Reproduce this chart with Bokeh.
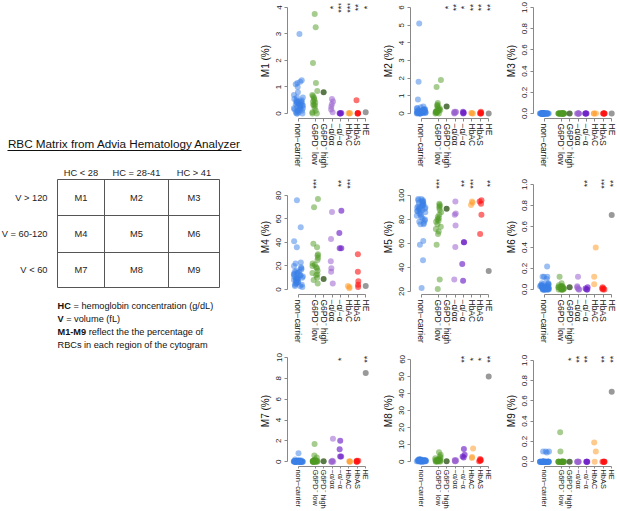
import math
from bokeh.plotting import figure
from bokeh.models import Range1d, FixedTicker, ColumnDataSource, PrintfTickFormatter
from bokeh.transform import jitter
from bokeh.layouts import row, column
from bokeh.embed import file_html
from bokeh.resources import INLINE
from bokeh.core.properties import value

# ---------------- data ----------------
group_pos = [1, 3, 4, 5, 6, 7, 8, 9]
group_labels = ["non\u2212carrier", "G6PD\u207b low", "G6PD\u207b high", "\u2212\u03b1/\u03b1\u03b1",
                "\u2212\u03b1/\u2212\u03b1", "HbAC", "HbAS", "HE"]
group_colors = ["#3A7FE8", "#4E9A22", "#3E6128", "#9A62D0", "#6E22C8", "#FF9E2C", "#FF1010", "#6E6E6E"]
group_alpha = [0.5, 0.5, 0.85, 0.55, 0.65, 0.55, 0.6, 0.7]
group_jitter = [1.1, 0.7, 0.0, 0.3, 0.3, 0.3, 0.3, 0.0]

M1 = dict(
    nc=[3.0, 1.25, 1.2, 1.15, 1.1, 1.0, 0.8, 0.7, 0.6, 0.6, 0.55, 0.5, 0.5, 0.45, 0.45, 0.4, 0.4, 0.4, 0.35, 0.35,
        0.3, 0.3, 0.3, 0.25, 0.25, 0.2, 0.2, 0.2, 0.15, 0.15, 0.1, 0.1, 0.1, 0.05, 0.05, 0.0, 0.0, 0.0, 0.45, 0.35],
    gl=[3.75, 3.25, 1.9, 1.15, 0.85, 0.7, 0.65, 0.6, 0.55, 0.5, 0.4, 0.35, 0.3, 0.3, 0.2, 0.1, 0.05, 0.0, 0.0, 0.45],
    gh=[0.8], a1=[0.55, 0.45, 0.35, 0.25, 0.15, 0.05], a2=[0.0, 0.02, 0.0, 0.01],
    ac=[0.0, 0.02, 0.01], as_=[0.5, 0.0, 0.02, 0.0, 0.01], he=[0.05])
M2 = dict(
    nc=[5.1, 1.8, 0.8, 0.4, 0.35, 0.3, 0.3, 0.25, 0.25, 0.2, 0.2, 0.2, 0.15, 0.15, 0.15, 0.1, 0.1, 0.1, 0.1, 0.08,
        0.08, 0.05, 0.05, 0.05, 0.05, 0.03, 0.03, 0.02, 0.02, 0.0, 0.0, 0.0, 0.12, 0.18, 0.22, 0.06, 0.04, 0.1, 0.14, 0.01],
    gl=[1.9, 1.5, 0.6, 0.5, 0.45, 0.4, 0.3, 0.3, 0.25, 0.2, 0.15, 0.1, 0.1, 0.05, 0.05, 0.0, 0.0, 0.2, 0.12, 0.08],
    gh=[0.4], a1=[0.1, 0.05, 0.05, 0.0, 0.1, 0.08], a2=[0.1, 0.05, 0.05, 0.0],
    ac=[0.02, 0.0, 0.03], as_=[0.1, 0.05, 0.0, 0.0, 0.02], he=[0.0])
M3 = dict(
    nc=[0.0, 0.0, 0.0, 0.0, 0.0, 0.0, 0.0, 0.0, 0.0, 0.0, 0.0, 0.0, 0.0, 0.0, 0.0, 0.0, 0.0, 0.0, 0.0, 0.0,
        0.0, 0.0, 0.0, 0.0, 0.0, 0.0, 0.0, 0.0, 0.0, 0.0, 0.0, 0.0, 0.0, 0.0, 0.0, 0.0, 0.0, 0.0, 0.0, 0.0],
    gl=[0.0, 0.0, 0.0, 0.0, 0.0, 0.0, 0.0, 0.0, 0.0, 0.0, 0.0, 0.0, 0.0, 0.0, 0.0, 0.0, 0.0, 0.0, 0.0, 0.0],
    gh=[0.0], a1=[0.0, 0.0, 0.0, 0.0, 0.0, 0.0], a2=[0.0, 0.0, 0.0, 0.0],
    ac=[0.0, 0.0, 0.0], as_=[0.0, 0.0, 0.0, 0.0, 0.0], he=[0.0])
M4 = dict(
    nc=[76, 53, 41, 36, 23, 22, 20, 18, 17, 16, 15, 15, 14, 13, 13, 12, 12, 11, 11, 10,
        10, 9, 9, 9, 8, 8, 7, 7, 6, 6, 5, 5, 4, 4, 3, 3, 2, 19, 14, 10],
    gl=[77, 70, 39, 36, 30, 29, 27, 25, 22, 21, 20, 19, 18, 16, 14, 13, 12, 10, 8, 5],
    gh=[9], a1=[66, 43, 24, 18, 15, 5], a2=[67, 48, 35, 35],
    ac=[1, 2, 3], as_=[30, 15, 7, 4, 2], he=[3])
M5 = dict(
    nc=[97, 97, 96, 96, 95, 95, 94, 94, 93, 93, 92, 92, 91, 91, 90, 90, 89, 89, 88, 88,
        87, 87, 86, 86, 85, 84, 83, 82, 81, 80, 79, 78, 77, 76, 76, 62, 59, 46, 23, 90],
    gl=[93, 92, 91, 90, 88, 86, 84, 82, 81, 80, 79, 78, 76, 74, 72, 70, 68, 59, 30, 22],
    gh=[89], a1=[95, 85, 84, 75, 57, 30], a2=[61, 61, 43, 29],
    ac=[95, 94, 92], as_=[96, 95, 93, 84, 68], he=[37])
M6 = dict(
    nc=[0.22, 0.12, 0.12, 0.12, 0.1, 0.06, 0.05, 0.05, 0.04, 0.04, 0.03, 0.03, 0.03, 0.02, 0.02, 0.02, 0.02, 0.01,
        0.01, 0.01, 0.01, 0.0, 0.0, 0.0, 0.0, 0.0, 0.0, 0.0, 0.0, 0.0, 0.03, 0.02, 0.01, 0.04, 0.05, 0.02, 0.01, 0.0,
        0.03, 0.06],
    gl=[0.12, 0.06, 0.04, 0.03, 0.03, 0.02, 0.02, 0.02, 0.01, 0.01, 0.01, 0.0, 0.0, 0.0, 0.0, 0.0, 0.02, 0.01, 0.03, 0.0],
    gh=[0.02], a1=[0.12, 0.03, 0.02, 0.01, 0.0, 0.0], a2=[0.02, 0.01, 0.0, 0.0],
    ac=[0.4, 0.12, 0.05], as_=[0.02, 0.01, 0.0, 0.0, 0.01], he=[0.71])
M7 = dict(
    nc=[0.8, 0.2, 0.15, 0.1, 0.1, 0.1, 0.08, 0.05, 0.05, 0.05, 0.05, 0.03, 0.03, 0.02, 0.02, 0.02, 0.01, 0.01, 0.01,
        0.0, 0.0, 0.0, 0.0, 0.0, 0.0, 0.0, 0.0, 0.0, 0.0, 0.0, 0.12, 0.06, 0.04, 0.0, 0.0, 0.02, 0.07, 0.0, 0.0, 0.03],
    gl=[1.7, 0.6, 0.4, 0.2, 0.15, 0.1, 0.1, 0.05, 0.05, 0.03, 0.02, 0.0, 0.0, 0.0, 0.0, 0.0, 0.08, 0.04, 0.0, 0.0],
    gh=[0.05], a1=[2.2, 0.1, 0.05, 0.0, 0.0, 0.0], a2=[2.0, 1.2, 0.5, 0.5],
    ac=[0.05, 0.0, 0.02], as_=[0.1, 0.05, 0.0, 0.0, 0.1], he=[8.5])
M8 = dict(
    nc=[1.5, 1.3, 1.2, 1.1, 1.0, 1.0, 0.9, 0.9, 0.8, 0.8, 0.8, 0.7, 0.7, 0.7, 0.6, 0.6, 0.6, 0.5, 0.5, 0.5,
        0.5, 0.4, 0.4, 0.4, 0.3, 0.3, 0.3, 0.2, 0.2, 0.2, 0.1, 0.1, 0.1, 0.0, 0.0, 0.6, 0.9, 1.2, 0.4, 0.7],
    gl=[5.5, 4.0, 3.0, 2.5, 2.0, 1.5, 1.2, 1.0, 1.0, 0.8, 0.6, 0.5, 0.5, 0.4, 0.3, 0.2, 0.1, 0.0, 0.0, 0.7],
    gh=[0.3], a1=[1.0, 0.8, 0.5, 0.5, 0.3, 0.2], a2=[7.5, 4.0, 3.0, 2.5],
    ac=[7.8, 2.8, 2.2], as_=[1.5, 1.0, 0.8, 0.5, 0.3], he=[50])
M9 = dict(
    nc=[0.1, 0.1, 0.1, 0.09, 0.0, 0.0, 0.0, 0.0, 0.0, 0.0, 0.0, 0.0, 0.0, 0.0, 0.0, 0.0, 0.0, 0.0, 0.0, 0.0,
        0.0, 0.0, 0.0, 0.0, 0.0, 0.0, 0.0, 0.0, 0.0, 0.0, 0.0, 0.0, 0.0, 0.0, 0.0, 0.0, 0.0, 0.0, 0.0, 0.0],
    gl=[0.29, 0.1, 0.0, 0.0, 0.0, 0.0, 0.0, 0.0, 0.0, 0.0, 0.0, 0.0, 0.0, 0.0, 0.0, 0.0, 0.0, 0.0, 0.0, 0.0],
    gh=[0.0], a1=[0.0, 0.0, 0.0, 0.0, 0.0, 0.0], a2=[0.0, 0.0, 0.0, 0.0],
    ac=[0.19, 0.1, 0.0], as_=[0.0, 0.0, 0.0, 0.0, 0.0], he=[0.69])

# significance marks per group
S1 = dict(a1="*", a2="***", ac="***", as_="**", he="*")
S2 = dict(gh="*", a1="**", a2="*", ac="**", as_="**", he="**")
S3 = dict()
S4 = dict(gl="***", a2="**", ac="***")
S5 = dict(gl="***", a2="**", ac="***", he="**")
S6 = dict(a2="**", as_="***", he="**")
S7 = dict(a2="*", he="**")
S8 = dict(a2="**", ac="*", as_="*", he="**")
S9 = dict(gh="*", a1="**", a2="**", as_="**", he="**")

y_ticks1 = [0, 1, 2, 3, 4]
y_ticks2 = [0, 1, 2, 3, 4, 5, 6]
y_ticks_frac = [0.0, 0.2, 0.4, 0.6, 0.8, 1.0]
y_ticks4 = [0, 20, 40, 60, 80]
y_ticks5 = [20, 40, 60, 80, 100]
y_ticks7 = [0, 2, 4, 6, 8, 10]
y_ticks8 = [0, 10, 20, 30, 40, 50, 60]

panels = [
    ("M1 (%)", M1, S1, (-0.19, 4.15), y_ticks1, False, 0),
    ("M2 (%)", M2, S2, (-0.28, 6.23), y_ticks2, False, 0),
    ("M3 (%)", M3, S3, (-0.047, 1.038), y_ticks_frac, True, 0),
    ("M4 (%)", M4, S4, (-4.3, 93.6), y_ticks4, False, 1),
    ("M5 (%)", M5, S5, (17.5, 113.3), y_ticks5, False, 1),
    ("M6 (%)", M6, S6, (-0.048, 1.048), y_ticks_frac, True, 1),
    ("M7 (%)", M7, S7, (-0.46, 10.19), y_ticks7, False, 2),
    ("M8 (%)", M8, S8, (-2.83, 62.3), y_ticks8, False, 2),
    ("M9 (%)", M9, S9, (-0.048, 1.048), y_ticks_frac, True, 2),
]

FONT = "Liberation Sans"
keys = ["nc", "gl", "gh", "a1", "a2", "ac", "as_", "he"]
FRAME_H = 115
row_height = [176, 176, 159]
row_label_size = ["8.5px", "8.5px", "7.4px"]


def make_panel(label, data, stars, yr, ticks, frac, r):
    h = row_height[r]
    p = figure(width=123, height=h, x_range=Range1d(-0.294, 9.45), y_range=Range1d(*yr),
               output_backend="svg", toolbar_location=None,
               min_border_left=39, min_border_right=2, min_border_top=3,
               min_border_bottom=h - 3 - FRAME_H)
    p.grid.visible = False
    p.outline_line_color = None
    for k, pos, col, a, jw in zip(keys, group_pos, group_colors, group_alpha, group_jitter):
        vals = data[k]
        src = ColumnDataSource(dict(x=[pos] * len(vals), y=vals))
        xs = jitter("x", width=jw, distribution="uniform") if jw > 0 else "x"
        p.scatter(x=xs, y="y", source=src, size=6, fill_color=col, fill_alpha=a, line_color=None)
    sx, st = [], []
    for k, pos in zip(keys, group_pos):
        if k in stars:
            sx.append(pos)
            st.append(stars[k])
    if sx:
        ssrc = ColumnDataSource(dict(x=sx, t=st))
        p.text(x="x", y=yr[1] - (yr[1] - yr[0]) * 4.0 / FRAME_H, text="t", source=ssrc, angle=math.pi / 2,
               text_align="center", text_baseline="middle", text_font=value(FONT), text_font_size="9px",
               text_color="#222222", x_offset=1)
    ax = p.xaxis[0]
    ax.ticker = FixedTicker(ticks=group_pos)
    ax.major_label_overrides = {pos: lab for pos, lab in zip(group_pos, group_labels)}
    ax.major_label_orientation = "vertical"
    ax.bounds = (group_pos[0], group_pos[-1])
    ax.major_tick_out = 3 if r < 2 else 2
    ax.major_tick_in = 0
    ax.minor_tick_line_color = None
    ax.major_label_standoff = 2 if r < 2 else 1
    ax.major_label_text_font = FONT
    ax.major_label_text_font_size = row_label_size[r]
    ax.major_label_text_color = "#222222"
    ax.axis_line_color = "#888888"
    ax.major_tick_line_color = "#888888"
    ay = p.yaxis[0]
    ay.ticker = FixedTicker(ticks=ticks)
    if frac:
        ay.formatter = PrintfTickFormatter(format="%.1f")
    ay.bounds = (ticks[0], ticks[-1])
    ay.major_label_orientation = "vertical"
    ay.major_tick_out = 3
    ay.major_tick_in = 0
    ay.minor_tick_line_color = None
    ay.major_label_standoff = 3
    ay.major_label_text_font = FONT
    ay.major_label_text_font_size = "8px"
    ay.major_label_text_color = "#222222"
    ay.axis_line_color = "#888888"
    ay.major_tick_line_color = "#888888"
    ay.axis_label = label
    ay.axis_label_text_font = FONT
    ay.axis_label_text_font_style = "normal"
    ay.axis_label_text_font_size = "10px"
    ay.axis_label_text_color = "#111111"
    ay.axis_label_standoff = 3
    return p


figs = [make_panel(*spec) for spec in panels]

# ---------------- diagram ----------------
d = figure(width=248, height=511, x_range=Range1d(0, 248), y_range=Range1d(511, 0),
           output_backend="svg", toolbar_location=None, x_axis_type=None, y_axis_type=None,
           min_border_left=0, min_border_right=0, min_border_top=0, min_border_bottom=0)
d.grid.visible = False
d.outline_line_color = None

title_text = "RBC Matrix from Advia Hematology Analyzer"
col_heads = ["HC < 28", "HC = 28-41", "HC > 41"]
row_heads = ["V > 120", "V = 60-120", "V < 60"]
cells = [["M1", "M2", "M3"], ["M4", "M5", "M6"], ["M7", "M8", "M9"]]
gx = [57, 104, 168, 219]
gy = [179, 215, 252, 287]

d.text(x=[124], y=[143], text=[title_text], text_align="center", text_baseline="middle",
       text_font=value(FONT), text_font_size="11.7px", text_color="#111111")
d.segment(x0=[7], y0=[150], x1=[241], y1=[150], line_color="#111111", line_width=1)

cx = [(gx[i] + gx[i + 1]) / 2 for i in range(3)]
cy = [(gy[i] + gy[i + 1]) / 2 for i in range(3)]
d.text(x=cx, y=[gy[0] - 7] * 3, text=col_heads, text_align="center", text_baseline="middle",
       text_font=value(FONT), text_font_size="9.3px", text_color="#222222")
d.text(x=[gx[0] - 10] * 3, y=cy, text=row_heads, text_align="right", text_baseline="middle",
       text_font=value(FONT), text_font_size="9.3px", text_color="#222222")
d.segment(x0=gx, y0=[gy[0]] * 4, x1=gx, y1=[gy[-1]] * 4, line_color="#555555", line_width=1)
d.segment(x0=[gx[0]] * 4, y0=gy, x1=[gx[-1]] * 4, y1=gy, line_color="#555555", line_width=1)
for r in range(3):
    d.text(x=cx, y=[cy[r]] * 3, text=cells[r], text_align="center", text_baseline="middle",
           text_font=value(FONT), text_font_size="9.3px", text_color="#222222")

note_bold = ["HC", "V", "M1-M9", ""]
note_rest = ["= hemoglobin concentration (g/dL)", "= volume (fL)", "reflect the the percentage of",
             "RBCs in each region of the cytogram"]
note_y = [305, 318, 331, 344]
bold_w = [16.0, 8.7, 31.2, 0.0]
d.text(x=[gx[0]] * 4, y=note_y, text=note_bold, text_align="left", text_baseline="middle",
       text_font=value(FONT), text_font_size="9.2px", text_font_style="bold", text_color="#111111")
for t, yy, bw in zip(note_rest, note_y, bold_w):
    d.text(x=[gx[0]], y=[yy], text=[t], text_align="left", text_baseline="middle", x_offset=bw,
           text_font=value(FONT), text_font_size="9.2px", text_color="#111111")

grid = column(row(figs[0], figs[1], figs[2]), row(figs[3], figs[4], figs[5]), row(figs[6], figs[7], figs[8]))
layout = row(d, grid)

open("out.html", "w").write(file_html(layout, INLINE))
